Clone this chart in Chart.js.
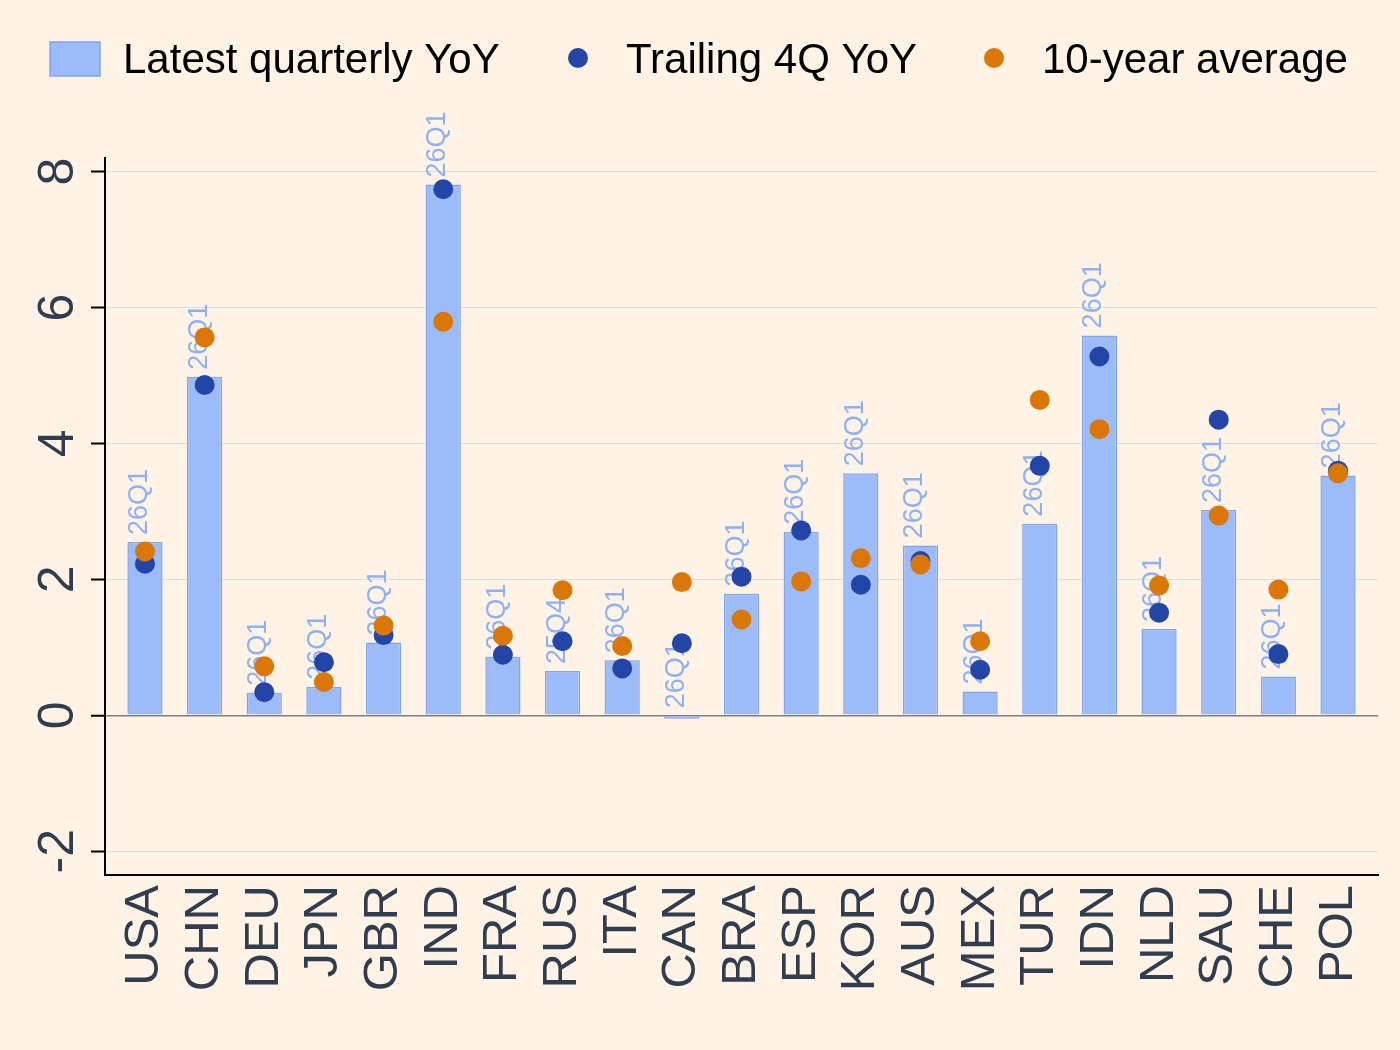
<!DOCTYPE html>
<html>
<head>
<meta charset="utf-8">
<script src="https://cdn.jsdelivr.net/npm/chart.js@4.4.1/dist/chart.umd.min.js"></script>
<style>
  html, body { margin: 0; padding: 0; background: #FFF3E5; }
  #wrap { width: 1400px; height: 1050px; }
</style>
</head>
<body>
<div id="wrap"><canvas id="chart" width="1400" height="1050"></canvas></div>
<script>
const countries = ['USA','CHN','DEU','JPN','GBR','IND','FRA','RUS','ITA','CAN','BRA','ESP','KOR','AUS','MEX','TUR','IDN','NLD','SAU','CHE','POL'];
const quarters  = ['26Q1','26Q1','26Q1','26Q1','26Q1','26Q1','26Q1','25Q4','26Q1','26Q1','26Q1','26Q1','26Q1','26Q1','26Q1','26Q1','26Q1','26Q1','26Q1','26Q1','26Q1'];
const latestYoY   = [2.55, 4.98, 0.33, 0.42, 1.07, 7.81, 0.86, 0.65, 0.81, -0.05, 1.79, 2.70, 3.56, 2.50, 0.35, 2.82, 5.59, 1.27, 3.02, 0.57, 3.53];
const trailingYoY = [2.23, 4.86, 0.34, 0.78, 1.18, 7.74, 0.89, 1.09, 0.69, 1.06, 2.04, 2.72, 1.92, 2.27, 0.67, 3.67, 5.28, 1.51, 4.35, 0.90, 3.60];
const tenYearAvg  = [2.41, 5.56, 0.72, 0.49, 1.32, 5.79, 1.17, 1.84, 1.02, 1.96, 1.41, 1.97, 2.31, 2.22, 1.09, 4.64, 4.21, 1.91, 2.94, 1.85, 3.56];
const yTicks = [-2, 0, 2, 4, 6, 8];

const FONT = "'Liberation Sans', Arial, sans-serif";
const BAR_FILL = '#9BBBF9', BAR_EDGE = '#7FA4F4', LABEL_BLUE = '#8DB0F7';
const DOT_BLUE = '#2345A7', DOT_ORANGE = '#DA7707';
const TEXT = '#2F3D4F';

const toXY = arr => arr.map((v, i) => ({ x: i, y: v }));

const background = {
  id: 'background',
  beforeDraw(chart) {
    const ctx = chart.ctx;
    ctx.save();
    ctx.fillStyle = '#FFF3E5';
    ctx.fillRect(0, 0, chart.width, chart.height);
    ctx.restore();
  }
};

// quarter tags above each bar, drawn right after the bars so the dots sit on top
const quarterLabels = {
  id: 'quarterLabels',
  afterDatasetDraw(chart, args) {
    if (args.index !== 0) return;
    const ctx = chart.ctx, y = chart.scales.y;
    ctx.save();
    ctx.fillStyle = LABEL_BLUE;
    ctx.font = '27px ' + FONT;
    ctx.textAlign = 'left';
    ctx.textBaseline = 'alphabetic';
    args.meta.data.forEach((bar, i) => {
      const top = y.getPixelForValue(Math.max(latestYoY[i], 0)) - 7;
      ctx.save();
      ctx.translate(bar.x + 2, top);
      ctx.rotate(-Math.PI / 2);
      ctx.fillText(quarters[i], 0, 0);
      ctx.restore();
    });
    ctx.restore();
  }
};

const topLegend = {
  id: 'topLegend',
  afterDraw(chart) {
    const ctx = chart.ctx;
    const ds = chart.data.datasets;
    const items = [
      { x: 50, kind: 'box', ds: ds[0] },
      { x: 553, kind: 'dot', ds: ds[1] },
      { x: 969, kind: 'dot', ds: ds[2] }
    ];
    const cy = 60;
    ctx.save();
    ctx.font = '42px ' + FONT;
    ctx.textBaseline = 'middle';
    ctx.textAlign = 'left';
    items.forEach(it => {
      if (it.kind === 'box') {
        ctx.fillStyle = BAR_FILL;
        ctx.fillRect(it.x, cy - 18, 50, 34);
        ctx.strokeStyle = BAR_EDGE;
        ctx.lineWidth = 1.5;
        ctx.strokeRect(it.x, cy - 18, 50, 34);
      } else {
        ctx.fillStyle = it.ds.backgroundColor;
        ctx.beginPath();
        ctx.arc(it.x + 25, cy - 2, 10, 0, Math.PI * 2);
        ctx.fill();
      }
      ctx.fillStyle = '#000';
      ctx.fillText(it.ds.label, it.x + 73, cy + 1);
    });
    ctx.restore();
  }
};

new Chart(document.getElementById('chart'), {
  type: 'bar',
  data: {
    datasets: [
      {
        label: 'Latest quarterly YoY',
        data: toXY(latestYoY),
        backgroundColor: BAR_FILL,
        borderColor: BAR_EDGE,
        borderWidth: 1.5,
        barPercentage: 0.59,
        categoryPercentage: 1,
        order: 3
      },
      {
        type: 'scatter',
        label: 'Trailing 4Q YoY',
        data: toXY(trailingYoY),
        backgroundColor: DOT_BLUE,
        borderWidth: 0,
        pointRadius: 10,
        pointHoverRadius: 10,
        order: 2
      },
      {
        type: 'scatter',
        label: '10-year average',
        data: toXY(tenYearAvg),
        backgroundColor: DOT_ORANGE,
        borderWidth: 0,
        pointRadius: 10,
        pointHoverRadius: 10,
        order: 1
      }
    ]
  },
  options: {
    responsive: false,
    animation: false,
    devicePixelRatio: 1,
    layout: { padding: { top: 158, right: 22, bottom: 0, left: 0 } },
    plugins: { legend: { display: false }, tooltip: { enabled: false } },
    scales: {
      x: {
        type: 'linear',
        offset: false,
        min: -0.67,
        max: 20.67,
        afterBuildTicks(s) { s.ticks = countries.map((_, i) => ({ value: i })); },
        afterFit(s) { s.height = 175; s.paddingLeft = 0; s.paddingRight = 0; },
        grid: { display: false, drawTicks: false },
        border: { color: '#000', width: 2 },
        ticks: {
          autoSkip: false,
          minRotation: 90,
          maxRotation: 90,
          padding: 10,
          color: TEXT,
          font: { family: FONT, size: 49 },
          callback: v => countries[v] ?? ''
        }
      },
      y: {
        min: -2.35,
        max: 8.2,
        afterBuildTicks(s) { s.ticks = yTicks.map(v => ({ value: v })); },
        afterFit(s) { s.width = 105; },
        grid: {
          color: c => c.tick && c.tick.value === 0 ? '#7E7E7E' : '#DADCE4',
          lineWidth: c => c.tick && c.tick.value === 0 ? 1.5 : 1,
          tickColor: '#000',
          tickLength: 14,
          tickWidth: 2
        },
        border: { color: '#000', width: 2 },
        ticks: {
          minRotation: 90,
          maxRotation: 90,
          crossAlign: 'center',
          padding: 10,
          color: TEXT,
          font: { family: FONT, size: 50 },
          callback: v => String(v)
        }
      }
    }
  },
  plugins: [background, quarterLabels, topLegend]
});
</script>
</body>
</html>
